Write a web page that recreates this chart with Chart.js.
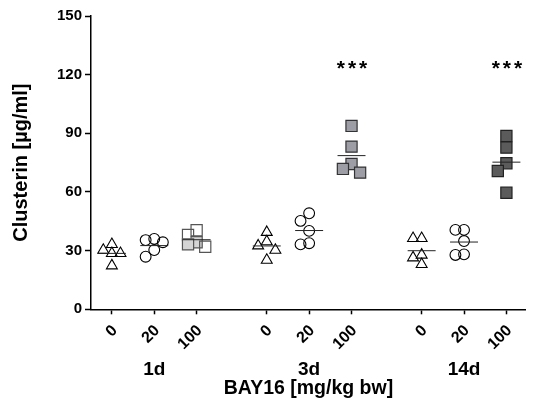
<!DOCTYPE html>
<html><head><meta charset="utf-8">
<script src="https://cdn.jsdelivr.net/npm/chart.js@4/dist/chart.umd.min.js"></script>
<style>html,body{margin:0;padding:0;background:#fff;overflow:hidden}#wrap{width:535px;height:403px}</style>
</head><body><div id="wrap"><canvas id="c" width="535" height="403"></canvas></div>
<script>
// ---- data (µg/ml) ----
const groups = ['1d', '3d', '14d'];
const doses = ['0', '20', '100'];
const yTicks = [0, 30, 60, 90, 120, 150];
const values1d = [[33.2, 30.3, 28.6, 28.6, 22.3], [36.0, 34.3, 35.4, 30.3, 26.9], [40.4, 38.0, 34.3, 33.2, 32.0]];
const values3d = [[39.4, 32.5, 34.6, 30.3, 25.2], [49.1, 45.2, 40.1, 33.2, 33.8], [93.8, 83.2, 74.3, 71.8, 69.9]];
const values14d = [[36.3, 36.3, 27.8, 26.4, 23.0], [40.6, 40.6, 34.9, 27.8, 28.1], [88.6, 82.7, 74.7, 70.7, 59.6]];
const significance = ['', '', '', '', '', '***', '', '', '***'];
const starLevel = 125;

// ---- layout / style ----
const GROUP_STEP = 3.655;
const X_MIN = -0.4925, X_MAX = 9.77;
const FONT = "'Liberation Sans', Arial, sans-serif";
const allValues = [values1d, values3d, values14d];
const tickPos = [];
groups.forEach((g, gi) => doses.forEach((d, di) => tickPos.push(gi * GROUP_STEP + di)));
const groupPos = groups.map((g, gi) => gi * GROUP_STEP + 1);
const squareFill = ['#d4d4d4', '#9d9da5', '#5b5b5b'];
const squareBorder = ['#555', '#333', '#222'];
const fill1dOpen = [true, true, false, false, true];
const collide = [9, 9.5, 11];

const mean = a => a.reduce((s, v) => s + v, 0) / a.length;

const lineSets = [], pointSets = [];
allValues.forEach((gv, gi) => gv.forEach((vals, di) => {
  const base = gi * GROUP_STEP + di;
  const m = mean(vals);
  lineSets.push({
    type: 'line', data: [{x: base - 0.33, y: m}, {x: base + 0.33, y: m}],
    borderColor: '#222', borderWidth: 1, pointRadius: 0, showLine: true, fill: false
  });
  let style;
  if (di === 0) style = {pointStyle: 'triangle', pointRadius: 6.3, backgroundColor: 'rgba(0,0,0,0)', borderColor: '#000', borderWidth: 1.1};
  else if (di === 1) style = {pointStyle: 'circle', pointRadius: 5.4, backgroundColor: 'rgba(0,0,0,0)', borderColor: '#000', borderWidth: 1.1};
  else style = {pointStyle: 'rect', pointRadius: 7.9,
    backgroundColor: gi === 0 ? vals.map((v, i) => fill1dOpen[i] ? 'rgba(0,0,0,0)' : squareFill[0]) : squareFill[gi],
    borderColor: squareBorder[gi], borderWidth: 1.2};
  pointSets.push(Object.assign({type: 'scatter', base, vals, minDist: collide[di],
    data: vals.map(v => ({x: base, y: v})), pointHoverRadius: 0}, style));
}));

const starPlugin = {
  id: 'stars',
  afterDatasetsDraw(chart) {
    const {ctx, scales: {x, y}} = chart;
    ctx.save();
    ctx.font = "bold 21px " + FONT;
    ctx.fillStyle = '#000';
    ctx.textAlign = 'center';
    ctx.textBaseline = 'alphabetic';
    try { ctx.letterSpacing = '3px'; } catch (e) {}
    significance.forEach((s, i) => {
      if (!s) return;
      const m = ctx.measureText(s);
      const cy = y.getPixelForValue(starLevel);
      const off = (m.actualBoundingBoxAscent - m.actualBoundingBoxDescent) / 2;
      ctx.fillText(s, x.getPixelForValue(tickPos[i]) + 2, cy + off);
    });
    ctx.restore();
  }
};

const chart = new Chart(document.getElementById('c'), {
  data: {datasets: [...lineSets, ...pointSets]},
  options: {
    responsive: false, animation: false,
    layout: {padding: {top: 16, left: 0, right: 0, bottom: 0}},
    plugins: {legend: {display: false}, tooltip: {enabled: false}},
    events: [],
    scales: {
      x: {
        type: 'linear', position: 'bottom', min: X_MIN, max: X_MAX, weight: 0,
        afterBuildTicks: s => { s.ticks = tickPos.map(v => ({value: v})); },
        ticks: {autoSkip: false, minRotation: 45, maxRotation: 45, color: '#000', padding: 7, labelOffset: 3,
          font: {family: FONT, weight: 'bold', size: 16},
          callback: (v, i) => doses[i % doses.length]},
        grid: {drawOnChartArea: false, drawTicks: true, tickLength: 5, tickWidth: 1.5, tickColor: '#000'},
        border: {color: '#000', width: 1.5},
        afterFit: s => { s.height = 45; s.paddingLeft = 0; s.paddingRight = 0; }
      },
      x2: {
        type: 'linear', position: 'bottom', min: X_MIN, max: X_MAX, weight: 1,
        afterBuildTicks: s => { s.ticks = groupPos.map(v => ({value: v})); },
        ticks: {autoSkip: false, maxRotation: 0, minRotation: 0, color: '#000', padding: 4,
          font: {family: FONT, weight: 'bold', size: 19},
          callback: (v, i) => groups[i]},
        grid: {display: false, drawTicks: false},
        border: {display: false},
        title: {display: true, text: 'BAY16 [mg/kg bw]', color: '#000', padding: {top: 0, bottom: 3},
          font: {family: FONT, weight: 'bold', size: 19.5}},
        afterFit: s => { s.height = 48.7; s.paddingLeft = 0; s.paddingRight = 0; }
      },
      y: {
        type: 'linear', position: 'left', min: 0, max: 150,
        afterBuildTicks: s => { s.ticks = yTicks.map(v => ({value: v})); },
        ticks: {color: '#000', padding: 3, font: {family: FONT, weight: 'bold', size: 15}},
        grid: {drawOnChartArea: false, tickLength: 6, tickWidth: 1.5, tickColor: '#000'},
        border: {color: '#000', width: 1.5},
        title: {display: true, text: 'Clusterin [µg/ml]', color: '#000', padding: {top: 9, bottom: 0},
          font: {family: FONT, weight: 'bold', size: 20}},
        afterFit: s => { s.width = 91; s.paddingTop = 0; s.paddingBottom = 0; }
      }
    }
  },
  plugins: [starPlugin]
});

// dot-plot spreading: overlapping symbols are moved one slot sideways, computed from the values
(function swarm() {
  const xs = chart.scales.x, ys = chart.scales.y;
  const pxPerX = xs.getPixelForValue(1) - xs.getPixelForValue(0);
  const step = 8.6;
  pointSets.forEach(ds => {
    const order = ds.vals.map((v, i) => i).sort((a, b) => ds.vals[b] - ds.vals[a]);
    const placed = [];
    const offs = new Array(ds.vals.length).fill(0);
    order.forEach(i => {
      const py = ys.getPixelForValue(ds.vals[i]);
      let best = 0, bestD = -1;
      for (const c of [0, -step, step]) {
        const d = placed.length ? Math.min(...placed.map(p => Math.hypot(p.x - c, p.y - py))) : Infinity;
        if (d >= ds.minDist) { best = c; bestD = d; break; }
        if (d > bestD) { best = c; bestD = d; }
      }
      offs[i] = best;
      placed.push({x: best, y: py});
    });
    ds.data = ds.vals.map((v, i) => ({x: ds.base + offs[i] / pxPerX, y: v}));
  });
  chart.update('none');
})();
</script></body></html>
